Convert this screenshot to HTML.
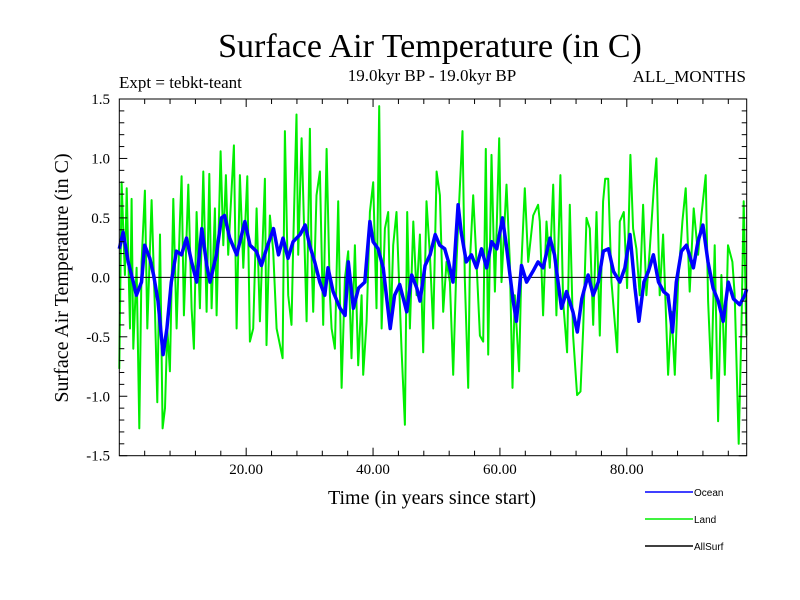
<!DOCTYPE html>
<html><head><meta charset="utf-8">
<style>
body{margin:0;background:#fff;}
svg{display:block;font-family:"Liberation Serif",serif;}
</style></head>
<body>
<svg id="chart" width="800" height="600" viewBox="0 0 800 600">
<rect x="0" y="0" width="800" height="600" fill="#fff"/>
<text x="430" y="57" font-size="34" text-anchor="middle">Surface Air Temperature (in C)</text>
<text x="119" y="88" font-size="17">Expt = tebkt-teant</text>
<text x="432" y="81" font-size="17" text-anchor="middle">19.0kyr BP - 19.0kyr BP</text>
<text x="746" y="82" font-size="17" text-anchor="end">ALL_MONTHS</text>
<text transform="translate(68,278) rotate(-90)" font-size="20" text-anchor="middle">Surface Air Temperature (in C)</text>
<text x="432" y="504" font-size="20" text-anchor="middle">Time (in years since start)</text>
<g id="marks"></g>
<g id="axes"></g>
<g font-family="Liberation Sans, sans-serif" font-size="10">
<line x1="645" y1="492" x2="693" y2="492" stroke="#0000ff" stroke-width="1.5"/>
<text x="694" y="496">Ocean</text>
<line x1="645" y1="519" x2="693" y2="519" stroke="#00ee00" stroke-width="1.5"/>
<text x="694" y="523">Land</text>
<line x1="645" y1="546" x2="693" y2="546" stroke="#000" stroke-width="1.5"/>
<text x="694" y="550">AllSurf</text>
</g>
</svg>
<script>
const yTicks=[1.5,1.0,0.5,0.0,-0.5,-1.0,-1.5];
const yTickLabels=["1.5","1.0","0.5","0.0","-0.5","-1.0","-1.5"];
const xTicks=[20,40,60,80];
const xTickLabels=["20.00","40.00","60.00","80.00"];
const landYears=[0,0.37,0.89,1.16,1.68,1.94,2.21,2.73,3.15,3.52,4.04,4.41,5.09,5.62,5.99,6.41,6.83,7.20,7.56,7.98,8.51,9.03,9.56,9.82,10.19,10.87,11.40,11.76,12.18,12.71,13.24,13.76,14.18,14.55,15.07,15.34,15.97,16.39,16.81,17.17,18.07,18.49,19.01,19.54,20.17,20.59,21.11,21.64,22.16,22.95,23.21,23.74,24.26,24.79,25.74,26.10,26.63,27.15,27.42,27.94,28.20,28.73,28.99,29.52,30.04,30.30,30.57,31.09,31.62,32.14,32.67,33.19,33.46,33.99,34.51,35.04,35.56,36.09,36.61,37.14,37.66,38.19,38.45,38.98,39.50,40.03,40.55,40.97,41.34,41.87,42.39,42.76,43.18,43.70,44.49,45.02,45.39,45.81,46.34,46.86,47.39,47.91,48.43,48.96,49.48,50.01,50.53,51.06,51.58,52.11,52.63,53.16,53.58,54.10,54.47,55.00,55.26,55.79,56.31,56.84,57.36,57.78,58.15,58.67,59.20,59.88,60.25,61.03,61.56,61.98,62.35,63.03,63.40,63.92,64.45,65.24,66.02,66.29,66.81,67.34,67.86,68.39,68.91,69.54,69.96,70.59,71.01,71.54,72.17,72.70,73.12,73.65,74.17,74.70,75.22,75.75,76.27,76.59,77.06,77.59,78.48,78.90,79.53,80.05,80.57,80.99,81.52,82.04,82.57,83.09,83.62,84.25,84.67,85.19,85.72,86.51,87.04,87.56,88.09,88.77,89.29,89.92,90.55,91.24,91.76,92.44,92.81,93.34,93.86,94.39,94.91,95.44,95.96,96.64,97.01,97.64,98.06,98.43,98.85];
const landValues=[-0.77,0.80,0.02,0.75,-0.43,0.66,-0.60,0.08,-1.27,0.13,0.73,-0.43,0.65,-0.29,-1.05,0.36,-1.27,-1.10,-0.43,-0.79,0.66,-0.43,0.47,0.85,-0.32,0.78,-0.26,-0.60,0.55,-0.26,0.89,-0.29,0.87,-0.26,0.58,-0.32,1.06,0.27,0.86,0.19,1.11,-0.43,0.86,0.08,0.85,-0.54,-0.43,0.58,-0.37,0.83,-0.57,0.52,0.22,-0.43,-0.68,1.23,-0.15,-0.40,0.27,1.37,0.19,1.17,0.69,-0.37,1.25,0.19,-0.29,0.69,0.89,-0.40,1.08,-0.15,-0.43,-0.60,0.64,-0.93,-0.01,0.22,-0.68,0.27,-0.74,-0.15,-0.82,-0.37,0.55,0.80,-0.26,1.44,-0.43,0.41,0.55,-0.43,0.27,0.55,-0.60,-1.24,0.55,-0.43,0.47,-0.15,0.36,-0.63,0.64,0.19,-0.43,0.89,0.69,-0.29,0.13,-0.04,-0.82,0.13,0.64,1.23,-0.01,-0.93,0.13,0.69,0.13,-0.49,-0.54,1.08,-0.65,1.03,-0.12,1.17,-0.04,0.78,0.13,-0.93,-0.15,-0.79,0.13,0.75,0.13,0.52,0.61,0.47,-0.32,0.47,0.08,0.78,-0.32,0.86,-0.20,-0.63,0.61,-0.49,-0.99,-0.96,-0.43,0.50,0.41,-0.40,0.55,-0.49,0.64,0.83,0.83,-0.04,-0.63,0.47,0.55,-0.09,1.03,0.41,0.24,-0.15,0.61,-0.15,0.24,0.75,1.00,-0.15,0.36,-0.82,-0.29,-0.82,-0.04,0.47,0.75,-0.12,0.58,0.19,0.52,0.86,-0.20,-0.85,0.27,-1.21,0.02,-0.82,0.27,0.13,-0.15,-1.40,-0.43,0.64,-0.49];
const oceanYears=[0,0.6,1.4,2.2,2.7,3.5,4.0,4.8,5.4,6.1,6.9,7.5,8.2,9.0,9.8,10.6,11.4,12.2,13.0,13.8,14.3,15.3,16.1,16.6,17.4,18.5,19.8,20.6,21.6,22.4,23.2,24.3,25.1,25.8,26.6,27.4,28.5,29.3,30.0,30.8,31.6,32.4,32.9,33.7,34.8,35.6,36.1,36.9,37.7,38.7,39.5,40.0,40.8,41.6,42.7,43.4,44.2,45.3,46.1,46.9,47.4,48.2,49.0,49.8,50.5,51.3,51.9,52.6,53.4,53.9,54.7,55.5,56.3,57.1,57.9,58.7,59.5,60.4,61.0,62.1,62.6,63.4,64.2,65.2,66.0,66.8,67.9,68.6,69.7,70.5,71.5,72.2,72.9,73.9,74.7,75.5,76.3,77.1,77.9,78.9,79.7,80.5,81.3,81.9,82.7,83.4,84.2,85.0,85.8,86.5,87.2,87.8,88.6,89.4,90.5,91.2,92.0,92.8,93.6,94.4,95.2,96.0,96.8,97.8,98.6,98.9];
const oceanValues=[0.24,0.38,0.13,-0.04,-0.15,-0.04,0.27,0.16,0.02,-0.20,-0.65,-0.43,-0.04,0.22,0.19,0.33,0.13,-0.04,0.41,0.10,-0.04,0.19,0.50,0.52,0.33,0.19,0.47,0.27,0.22,0.10,0.24,0.41,0.19,0.33,0.16,0.30,0.36,0.44,0.27,0.13,-0.04,-0.15,0.08,-0.12,-0.26,-0.32,0.13,-0.26,-0.09,-0.04,0.47,0.30,0.24,0.08,-0.43,-0.15,-0.06,-0.29,0.02,-0.09,-0.20,0.10,0.19,0.36,0.27,0.24,0.13,-0.04,0.61,0.38,0.13,0.19,0.08,0.24,0.08,0.30,0.24,0.50,0.27,-0.20,-0.37,0.10,-0.04,0.05,0.13,0.08,0.33,0.19,-0.26,-0.12,-0.29,-0.46,-0.18,0.02,-0.15,-0.04,0.22,0.24,0.05,-0.04,0.08,0.36,-0.09,-0.37,-0.04,0.05,0.19,-0.04,-0.12,-0.15,-0.46,-0.04,0.22,0.27,0.08,0.30,0.44,0.13,-0.09,-0.20,-0.37,-0.04,-0.18,-0.23,-0.15,-0.10];

const NS="http://www.w3.org/2000/svg";
const L=119.3,R=746.7,T=99,B=455.7,XMIN=0,XMAX=98.9,YMIN=-1.5,YMAX=1.5;
function xs(v){return L+(v-XMIN)/(XMAX-XMIN)*(R-L);}
function ys(v){return B-(v-YMIN)/(YMAX-YMIN)*(B-T);}
function mk(tag,attrs,parent){const e=document.createElementNS(NS,tag);for(const k in attrs)e.setAttribute(k,attrs[k]);parent.appendChild(e);return e;}
const marks=document.getElementById('marks');
const axes=document.getElementById('axes');

function pathFor(xsArr,vals){let d="";for(let i=0;i<xsArr.length;i++){d+=(i?"L":"M")+xs(xsArr[i]).toFixed(1)+","+ys(vals[i]).toFixed(1);}return d;}
const land=mk('path',{d:pathFor(landYears,landValues),fill:"none",stroke:"#00ee00","stroke-width":2,"stroke-linejoin":"round"},marks);


const zero=mk('line',{x1:L,x2:R,y1:ys(0),y2:ys(0),stroke:"#000","stroke-width":1},marks);


const ocean=mk('path',{d:pathFor(oceanYears,oceanValues),fill:"none",stroke:"#0000ff","stroke-width":3.5,"stroke-linejoin":"round"},marks);



const frame=mk('rect',{x:L,y:T,width:R-L,height:B-T,fill:"none",stroke:"#000","stroke-width":1},axes);


for(let v=-1.5;v<=1.5001;v+=0.1){
  const major=Math.abs(v*2-Math.round(v*2))<1e-6;
  const len=major?8:5;
  const y=ys(v);
  const t1=mk('line',{x1:L,x2:L+len,y1:y,y2:y,stroke:"#000","stroke-width":1},axes);
  
  
  const t2=mk('line',{x1:R,x2:R-len,y1:y,y2:y,stroke:"#000","stroke-width":1},axes);
  
  
}
yTicks.forEach((v,i)=>{
  const t=mk('text',{x:110,y:ys(v)+5,"font-size":15,"text-anchor":"end"},axes);
  t.textContent=yTickLabels[i];
  
  
});
for(let v=4;v<XMAX;v+=4){
  const major=v%20===0;
  const len=major?8:5;
  const x=xs(v);
  const b=mk('line',{x1:x,x2:x,y1:B,y2:B-len,stroke:"#000","stroke-width":1},axes);
  
  
  const t=mk('line',{x1:x,x2:x,y1:T,y2:T+len,stroke:"#000","stroke-width":1},axes);
  
  
}
xTicks.forEach((v,i)=>{
  const t=mk('text',{x:xs(v),y:474,"font-size":15,"text-anchor":"middle"},axes);
  t.textContent=xTickLabels[i];
  
  
});
</script>
</body></html>
